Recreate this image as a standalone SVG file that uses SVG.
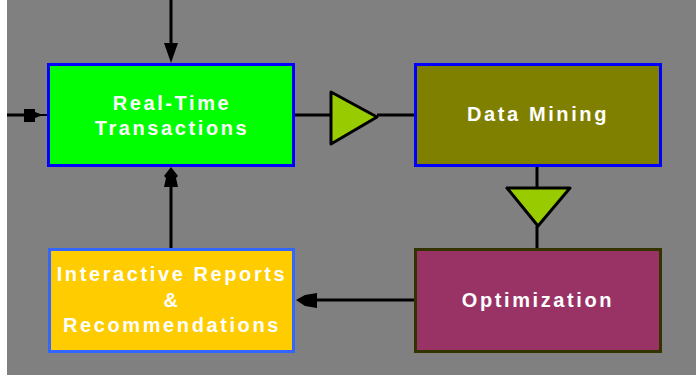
<svg xmlns="http://www.w3.org/2000/svg" width="696" height="375" viewBox="0 0 696 375">
<style>
.box{stroke-width:3}
.lbl{font-family:"Liberation Sans",Arial,sans-serif;font-weight:bold;font-size:20px;letter-spacing:2.6px;fill:#fff;text-anchor:middle}
.ln{stroke:#000;stroke-width:3;fill:none}
.tri{fill:#99CC00;stroke:#000;stroke-width:3;stroke-linejoin:round}
.ah{fill:#000}
</style>
<rect x="0" y="0" width="696" height="375" fill="#fff"/>
<rect x="7" y="0" width="689" height="375" fill="#808080"/>
<g id="connectors">
<line class="ln" x1="171" y1="0" x2="171" y2="50"/>
<polygon class="ah" points="164,43 178,43 171,63"/>
<line class="ln" x1="7" y1="115" x2="28" y2="115"/>
<line x1="30" y1="115" x2="47" y2="115" stroke="#000" stroke-width="2"/>
<polygon class="ah" points="24,109 35,109 35,112 43,115 35,118 35,122 24,122"/>
<line class="ln" x1="295" y1="115" x2="331" y2="115"/>
<polygon class="tri" points="331,92 377,117 331,144"/>
<line class="ln" x1="377" y1="115" x2="414" y2="115"/>
<line class="ln" x1="537" y1="167" x2="537" y2="188"/>
<polygon class="tri" points="507,188 570,188 538,226"/>
<line class="ln" x1="537" y1="226" x2="537" y2="248"/>
<line class="ln" x1="414" y1="300" x2="310" y2="300"/>
<polygon class="ah" points="296,300 305,295 317,293 317,308 305,306"/>
<line class="ln" x1="171" y1="248" x2="171" y2="180"/>
<polygon class="ah" points="171,167 178,176 176,178 178,187 164,187 166,178 164,176"/>
</g>
<g id="realtime">
<rect class="box" x="48.5" y="64.5" width="245" height="101" fill="#00FF00" stroke="#0000FF"/>
<text class="lbl" x="172" y="110">Real-Time</text>
<text class="lbl" x="172" y="135">Transactions</text>
</g>
<g id="datamining">
<rect class="box" x="415.5" y="64.5" width="245" height="101" fill="#808000" stroke="#0000FF"/>
<text class="lbl" x="538" y="121">Data Mining</text>
</g>
<g id="reports">
<rect class="box" x="49.5" y="249.5" width="244" height="102" fill="#FFCC00" stroke="#3366FF"/>
<text class="lbl" x="172" y="281">Interactive Reports</text>
<text class="lbl" x="172" y="307">&amp;</text>
<text class="lbl" x="172" y="332">Recommendations</text>
</g>
<g id="optimization">
<rect class="box" x="415.5" y="249.5" width="245" height="102" fill="#993366" stroke="#333300"/>
<text class="lbl" x="538" y="307">Optimization</text>
</g>
</svg>
